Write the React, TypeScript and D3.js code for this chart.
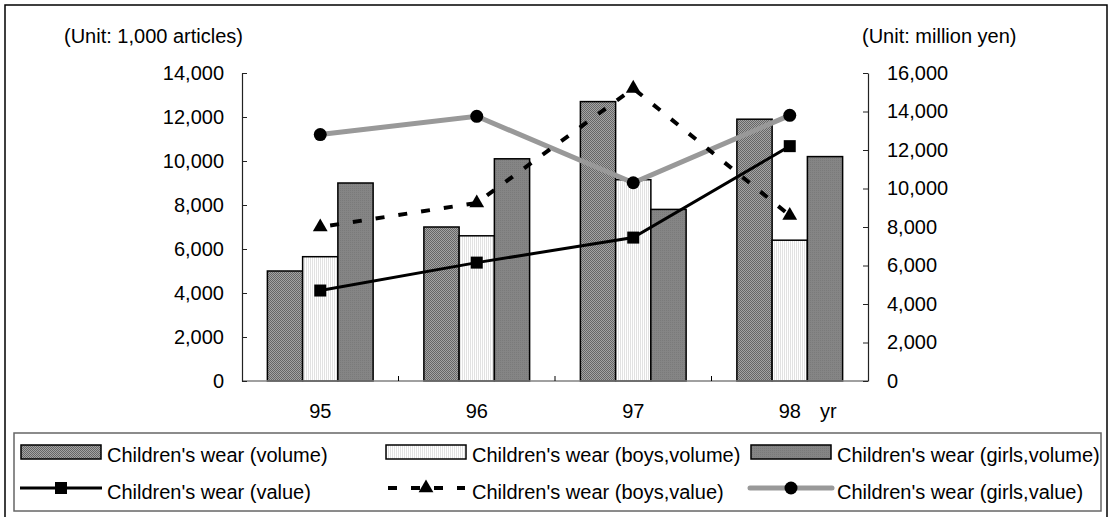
import React, { useEffect, useRef } from "react"
import * as d3 from "d3"

const years = ["95", "96", "97", "98"]
const volume = [5000, 7000, 12700, 11900]
const boysVolume = [5650, 6600, 9150, 6400]
const girlsVolume = [9000, 10100, 7800, 10200]
const value = [4700, 6150, 7450, 12200]
const boysValue = [8000, 9250, 15200, 8600]
const girlsValue = [12800, 13750, 10300, 13800]
const leftTicks = [0, 2000, 4000, 6000, 8000, 10000, 12000, 14000]
const rightTicks = [0, 2000, 4000, 6000, 8000, 10000, 12000, 14000, 16000]
const barSeries = ["Children's wear (volume)", "Children's wear (boys,volume)", "Children's wear (girls,volume)"]
const lineSeries = ["Children's wear (value)", "Children's wear (boys,value)", "Children's wear (girls,value)"]

const FONT = "'Liberation Sans', Arial, sans-serif"

export default function App() {
  const ref = useRef<SVGSVGElement>(null)

  useEffect(() => {
    const svg = d3.select(ref.current)
    svg.selectAll("*").remove()

    const left = 242, right = 868, top = 73, bottom = 381

    // patterns for the bars
    const defs = svg.append("defs")
    const pVol = defs.append("pattern").attr("id", "pVol").attr("patternUnits", "userSpaceOnUse")
      .attr("width", 2).attr("height", 2)
    pVol.append("rect").attr("width", 2).attr("height", 2).attr("fill", "#a4a4a4")
    pVol.append("rect").attr("width", 1).attr("height", 1).attr("fill", "#666")
    pVol.append("rect").attr("x", 1).attr("y", 1).attr("width", 1).attr("height", 1).attr("fill", "#666")
    const pBoys = defs.append("pattern").attr("id", "pBoys").attr("patternUnits", "userSpaceOnUse")
      .attr("width", 2).attr("height", 2)
    pBoys.append("rect").attr("width", 2).attr("height", 2).attr("fill", "#ffffff")
    pBoys.append("rect").attr("width", 1).attr("height", 2).attr("fill", "#e2e2e2")
    const pGirls = defs.append("pattern").attr("id", "pGirls").attr("patternUnits", "userSpaceOnUse")
      .attr("width", 2).attr("height", 2)
    pGirls.append("rect").attr("width", 2).attr("height", 2).attr("fill", "#858585")
    pGirls.append("rect").attr("width", 1).attr("height", 1).attr("fill", "#7a7a7a")
    const fills = ["url(#pVol)", "url(#pBoys)", "url(#pGirls)"]

    // outer frame
    svg.append("rect").attr("x", 5).attr("y", 5).attr("width", 1102).attr("height", 530)
      .attr("fill", "none").attr("stroke", "#000").attr("stroke-width", 1.5)

    const x = d3.scaleBand().domain(years).range([left, right]).padding(0)
    const xs = d3.scaleBand().domain(["0", "1", "2"]).range([0, x.bandwidth()])
      .paddingInner(0).paddingOuter(0.72)
    const yL = d3.scaleLinear().domain([0, 14000]).range([bottom, top])
    const yR = d3.scaleLinear().domain([0, 16000]).range([bottom, top])

    // bars
    const barData = [volume, boysVolume, girlsVolume]
    barData.forEach((vals, si) => {
      svg.append("g").selectAll("rect").data(vals).enter().append("rect")
        .attr("x", (d, i) => (x(years[i]) as number) + (xs(String(si)) as number))
        .attr("y", d => yL(d))
        .attr("width", xs.bandwidth())
        .attr("height", d => bottom - yL(d))
        .attr("fill", fills[si])
        .attr("stroke", "#000")
        .attr("stroke-width", 1.5)
    })

    // x axis
    svg.append("line").attr("x1", left).attr("x2", right).attr("y1", bottom).attr("y2", bottom)
      .attr("stroke", "#808080").attr("stroke-width", 1.5)
    years.forEach((yv, i) => {
      if (i > 0) {
        const bx = x(yv) as number
        svg.append("line").attr("x1", bx).attr("x2", bx).attr("y1", bottom).attr("y2", bottom - 5)
          .attr("stroke", "#000")
      }
    })
    svg.append("g").selectAll("text").data(years).enter().append("text")
      .attr("x", d => (x(d) as number) + x.bandwidth() / 2)
      .attr("y", 418)
      .attr("text-anchor", "middle")
      .style("font-family", FONT).style("font-size", "20px")
      .text(d => d)
    svg.append("text").attr("x", 820).attr("y", 418)
      .style("font-family", FONT).style("font-size", "20px").text("yr")

    // y axes
    const gl = svg.append("g").attr("transform", `translate(${left},0)`)
      .call(d3.axisLeft(yL).tickValues(leftTicks).tickSizeInner(-5).tickSizeOuter(0).tickPadding(18)
        .tickFormat(d3.format(",")))
    const gr = svg.append("g").attr("transform", `translate(${right},0)`)
      .call(d3.axisRight(yR).tickValues(rightTicks).tickSizeInner(-5).tickSizeOuter(0).tickPadding(19)
        .tickFormat(d3.format(",")))
    ;[gl, gr].forEach(g => {
      g.select(".domain").attr("stroke", "#222").attr("stroke-width", 1.2)
      g.selectAll(".tick line").attr("stroke", "#222")
      g.selectAll(".tick text").attr("fill", "#000").style("font-family", FONT).style("font-size", "20px")
    })

    svg.append("text").attr("x", 64).attr("y", 43)
      .style("font-family", FONT).style("font-size", "20px").text("(Unit: 1,000 articles)")
    svg.append("text").attr("x", 862).attr("y", 43)
      .style("font-family", FONT).style("font-size", "20px").text("(Unit: million yen)")

    // lines
    const cx = (i: number) => (x(years[i]) as number) + x.bandwidth() / 2
    const line = d3.line<number>().x((d, i) => cx(i)).y(d => yR(d))

    svg.append("path").datum(girlsValue).attr("d", line).attr("fill", "none")
      .attr("stroke", "#999").attr("stroke-width", 5)
    svg.append("g").selectAll("circle").data(girlsValue).enter().append("circle")
      .attr("cx", (d, i) => cx(i)).attr("cy", d => yR(d)).attr("r", 6.5).attr("fill", "#000")

    svg.append("path").datum(boysValue).attr("d", line).attr("fill", "none")
      .attr("stroke", "#000").attr("stroke-width", 4).attr("stroke-dasharray", "9,14")
      .attr("stroke-dashoffset", -10)
    const tri = d3.symbol().type(d3.symbolTriangle).size(95)
    svg.append("g").selectAll("path").data(boysValue).enter().append("path")
      .attr("d", tri).attr("transform", (d, i) => `translate(${cx(i)},${yR(d)})`).attr("fill", "#000")

    svg.append("path").datum(value).attr("d", line).attr("fill", "none")
      .attr("stroke", "#000").attr("stroke-width", 3)
    svg.append("g").selectAll("rect").data(value).enter().append("rect")
      .attr("x", (d, i) => cx(i) - 6).attr("y", d => yR(d) - 6).attr("width", 12).attr("height", 12)
      .attr("fill", "#000")

    // legend
    svg.append("rect").attr("x", 14).attr("y", 433).attr("width", 1087).attr("height", 78)
      .attr("fill", "#fff").attr("stroke", "#666").attr("stroke-width", 1.5)
    const colText = [107, 472, 837]
    barSeries.forEach((name, i) => {
      svg.append("rect").attr("x", colText[i] - 86).attr("y", 445).attr("width", 80).attr("height", 14)
        .attr("fill", fills[i]).attr("stroke", "#000").attr("stroke-width", 1.5)
      svg.append("text").attr("x", colText[i]).attr("y", 462)
        .style("font-family", FONT).style("font-size", "20px").text(name)
    })
    lineSeries.forEach((name, i) => {
      const x0 = colText[i] - 87, x1 = colText[i] - 5, mx = (x0 + x1) / 2, ly = 488
      if (i === 0) {
        svg.append("line").attr("x1", x0).attr("x2", x1).attr("y1", ly).attr("y2", ly)
          .attr("stroke", "#000").attr("stroke-width", 3)
        svg.append("rect").attr("x", mx - 6).attr("y", ly - 6).attr("width", 12).attr("height", 12).attr("fill", "#000")
      } else if (i === 1) {
        svg.append("line").attr("x1", x0 + 3).attr("x2", x1 - 2).attr("y1", ly).attr("y2", ly)
          .attr("stroke", "#000").attr("stroke-width", 4).attr("stroke-dasharray", "9,14")
        svg.append("path").attr("d", tri).attr("transform", `translate(${mx},${ly})`).attr("fill", "#000")
      } else {
        svg.append("line").attr("x1", x0).attr("x2", x1).attr("y1", ly).attr("y2", ly)
          .attr("stroke", "#999").attr("stroke-width", 5).attr("stroke-linecap", "round")
        svg.append("circle").attr("cx", mx).attr("cy", ly).attr("r", 6.5).attr("fill", "#000")
      }
      svg.append("text").attr("x", colText[i]).attr("y", 499)
        .style("font-family", FONT).style("font-size", "20px").text(name)
    })
  }, [])

  return (
    <svg ref={ref} width={1110} height={517}
      style={{ position: "absolute", left: 0, top: 0, background: "#fff" }} />
  )
}
